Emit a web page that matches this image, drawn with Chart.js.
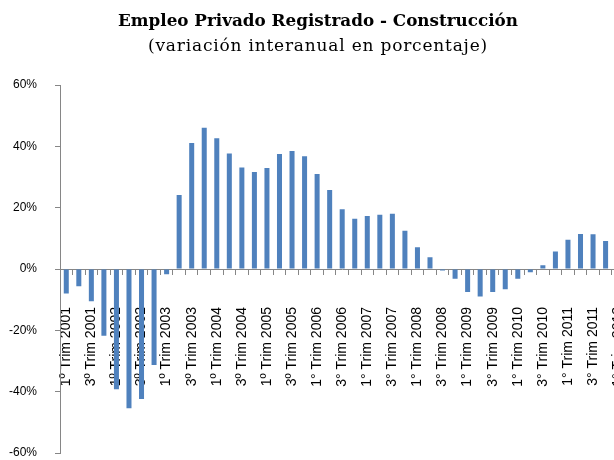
<!DOCTYPE html>
<html>
<head>
<meta charset="utf-8">
<script src="https://cdn.jsdelivr.net/npm/chart.js@4.4.1/dist/chart.umd.min.js"></script>
<style>
  html, body { margin: 0; padding: 0; background: #fff; overflow: hidden; width: 614px; height: 460px; }
  canvas { display: block; }
</style>
</head>
<body>
<canvas id="c" width="640" height="460"></canvas>
<script>
const titleText = "Empleo Privado Registrado - Construcción";
const subtitleText = "(variación interanual en porcentaje)";

const categories = [
  "1º Trim 2001","2º Trim 2001","3º Trim 2001","4º Trim 2001",
  "1º Trim 2002","2º Trim 2002","3º Trim 2002","4º Trim 2002",
  "1º Trim 2003","2º Trim 2003","3º Trim 2003","4º Trim 2003",
  "1º Trim 2004","2º Trim 2004","3º Trim 2004","4º Trim 2004",
  "1º Trim 2005","2º Trim 2005","3º Trim 2005","4º Trim 2005",
  "1° Trim 2006","2° Trim 2006","3° Trim 2006","4° Trim 2006",
  "1° Trim 2007","2° Trim 2007","3° Trim 2007","4° Trim 2007",
  "1° Trim 2008","2° Trim 2008","3° Trim 2008","4° Trim 2008",
  "1° Trim 2009","2° Trim 2009","3° Trim 2009","4° Trim 2009",
  "1° Trim 2010","2° Trim 2010","3° Trim 2010","4° Trim 2010",
  "1° Trim 2011","2° Trim 2011","3° Trim 2011","4° Trim 2011",
  "1° Trim 2012"
];

const variacion = [
  -8.0, -5.6, -10.5, -21.8,
  -39.2, -45.4, -42.4, -31.3,
  -1.7, 24.1, 41.1, 46.1,
  42.6, 37.7, 33.1, 31.6,
  32.9, 37.5, 38.5, 36.8,
  31.0, 25.8, 19.5, 16.4,
  17.3, 17.7, 18.0, 12.5,
  7.1, 3.8, -0.5, -3.2,
  -7.5, -9.0, -7.5, -6.6,
  -3.2, -1.1, 1.2, 5.7,
  9.5, 11.4, 11.3, 9.1,
  7.0
];

const yTicks = [-60, -40, -20, 0, 20, 40, 60];

const titlePlugin = {
  id: 'titles',
  afterDraw(chart) {
    const ctx = chart.ctx;
    ctx.save();
    ctx.fillStyle = '#000';
    ctx.textAlign = 'center';
    ctx.textBaseline = 'middle';
    ctx.font = 'bold 16.8px "DejaVu Serif"';
    ctx.fillText(titleText, 318, 22);
    ctx.font = '17px "DejaVu Serif"';
    if ('letterSpacing' in ctx) ctx.letterSpacing = '0.8px';
    ctx.fillText(subtitleText, 318, 47);
    ctx.restore();
  }
};

const axisGray = '#868686';

new Chart(document.getElementById('c'), {
  type: 'bar',
  data: {
    labels: categories,
    datasets: [{
      data: variacion,
      backgroundColor: '#4F81BD',
      borderWidth: 0,
      barPercentage: 0.4,
      categoryPercentage: 1.0
    }]
  },
  options: {
    responsive: false,
    animation: false,
    devicePixelRatio: 1,
    layout: { padding: { top: 85, bottom: 7, left: 0, right: 15.6 } },
    plugins: {
      legend: { display: false },
      tooltip: { enabled: false }
    },
    scales: {
      x: {
        type: 'category',
        position: { y: 0 },
        afterFit(scale) { scale.paddingLeft = 0; scale.paddingRight = 0; },
        grid: {
          offset: true,
          drawOnChartArea: false,
          drawTicks: true,
          tickLength: 5,
          color: axisGray
        },
        border: { display: true, color: axisGray, width: 1 },
        ticks: {
          autoSkip: false,
          minRotation: 90,
          maxRotation: 90,
          padding: 33,
          color: '#000',
          font: { family: '"Liberation Sans", Arial, sans-serif', size: 14 },
          callback: function(value, index) {
            return index % 2 === 0 ? categories[index] : '';
          }
        }
      },
      y: {
        min: -60,
        max: 60,
        afterFit(scale) { scale.width = 60; scale.paddingTop = 7; scale.paddingBottom = 7; },
        afterBuildTicks(scale) { scale.ticks = yTicks.map(v => ({ value: v })); },
        grid: {
          drawOnChartArea: false,
          drawTicks: true,
          tickLength: 5,
          color: axisGray
        },
        border: { display: true, color: axisGray, width: 1 },
        ticks: {
          padding: 18,
          color: '#000',
          font: { family: '"Liberation Sans", Arial, sans-serif', size: 12 },
          callback: v => v + '%'
        }
      }
    }
  },
  plugins: [titlePlugin]
});
</script>
</body>
</html>
